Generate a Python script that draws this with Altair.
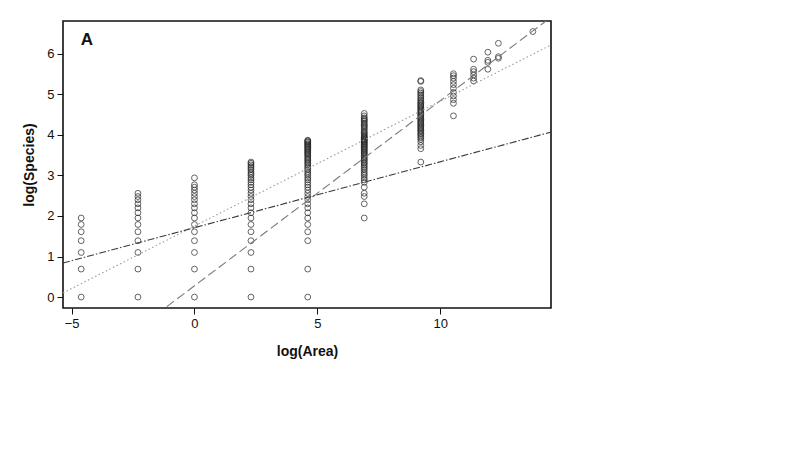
import altair as alt
import pandas as pd

# ---- data ----
col_x = [-4.61, -2.30, 0.0, 2.30, 4.61, 6.91, 9.21, 10.54, 11.36, 11.94, 12.37, 13.77]
col_y = [
    [0, 0.69, 1.10, 1.39, 1.61, 1.79, 1.95],
    [0, 0.69, 1.10, 1.39, 1.61, 1.79, 1.95, 2.08, 2.20, 2.30, 2.40, 2.48, 2.56],
    [0, 0.69, 1.10, 1.39, 1.61, 1.79, 1.95, 2.08, 2.20, 2.30, 2.40, 2.48, 2.56, 2.64, 2.71, 2.77, 2.94],
    [0, 0.69, 1.10, 1.39, 1.61, 1.79, 1.95, 2.08, 2.20, 2.30, 2.40, 2.48, 2.56, 2.64, 2.71, 2.77,
     2.83, 2.89, 2.94, 3.00, 3.04, 3.09, 3.14, 3.18, 3.22, 3.26, 3.30, 3.33],
    [0, 0.69, 1.39, 1.61, 1.79, 1.95, 2.08, 2.20, 2.30, 2.40, 2.48, 2.56, 2.64, 2.71, 2.77, 2.83,
     2.89, 2.94, 3.00, 3.04, 3.09, 3.14, 3.18, 3.22, 3.26, 3.30, 3.33, 3.37, 3.40, 3.43, 3.47,
     3.50, 3.53, 3.56, 3.58, 3.61, 3.64, 3.66, 3.69, 3.71, 3.74, 3.76, 3.78, 3.81, 3.83, 3.85, 3.87],
    [1.95, 2.30, 2.48, 2.56, 2.71, 2.83, 2.89, 2.94, 3.00, 3.04, 3.09, 3.14, 3.18, 3.22, 3.26,
     3.30, 3.33, 3.37, 3.40, 3.43, 3.47, 3.50, 3.53, 3.56, 3.58, 3.61, 3.64, 3.66, 3.69, 3.71,
     3.74, 3.76, 3.78, 3.81, 3.83, 3.85, 3.87, 3.89, 3.91, 3.93, 3.95, 3.97, 4.00, 4.03, 4.06,
     4.09, 4.13, 4.17, 4.20, 4.23, 4.26, 4.29, 4.33, 4.36, 4.39, 4.42, 4.47, 4.53],
    [3.33, 3.66, 3.74, 3.83, 3.89, 3.93, 3.97, 4.01, 4.04, 4.08, 4.11, 4.14, 4.17, 4.20, 4.23,
     4.26, 4.29, 4.32, 4.35, 4.38, 4.41, 4.44, 4.47, 4.50, 4.53, 4.56, 4.59, 4.62, 4.65, 4.68,
     4.71, 4.74, 4.77, 4.80, 4.83, 4.87, 4.91, 4.95, 4.99, 5.03, 5.07, 5.11, 5.32, 5.34],
    [4.47, 4.78, 4.87, 4.96, 5.05, 5.15, 5.24, 5.32, 5.40, 5.46, 5.51],
    [5.33, 5.40, 5.48, 5.56, 5.62, 5.87],
    [5.62, 5.79, 5.84, 6.04],
    [5.89, 5.93, 6.26],
    [6.55],
]

# fitted lines: intercept, slope, style
line_names = ["dash", "dotted", "dashdot"]
line_intercepts = [0.278, 1.75, 1.71]
line_slopes = [0.4565, 0.308, 0.1626]
line_colors = ["#7a7a7a", "#9a9a9a", "#3a3a3a"]
line_dashes = [[9, 4], [1.5, 2.5], [7, 2, 1.5, 2]]

x_domain = [-5.35, 14.51]
y_domain = [-0.27, 6.81]
x_ticks = [-5, 0, 5, 10]
y_ticks = [0, 1, 2, 3, 4, 5, 6]

rows = []
for xv, ys in zip(col_x, col_y):
    for yv in ys:
        rows.append({"x": xv, "y": yv})
pts = pd.DataFrame(rows)

xs = alt.Scale(domain=x_domain, nice=False, zero=False)
ys_ = alt.Scale(domain=y_domain, nice=False, zero=False)

x_axis = alt.Axis(values=x_ticks, title="log(Area)", grid=False, domain=False,
                  tickSize=6, tickColor="#111", tickWidth=1,
                  labelFont="Liberation Sans", labelFontSize=13, labelColor="#111",
                  labelPadding=3, titleFont="Liberation Sans", titleFontSize=14,
                  titleFontWeight="bold", titleColor="#111", titlePadding=14)
y_axis = alt.Axis(values=y_ticks, title="log(Species)", grid=False, domain=False,
                  tickSize=6, tickColor="#111", tickWidth=1,
                  labelFont="Liberation Sans", labelFontSize=13, labelColor="#111",
                  labelPadding=3, titleFont="Liberation Sans", titleFontSize=14,
                  titleFontWeight="bold", titleColor="#111", titlePadding=10)

points = alt.Chart(pts).mark_point(shape="circle", filled=False, size=34,
                                   stroke="#222", strokeWidth=1).encode(
    x=alt.X("x:Q", scale=xs, axis=x_axis),
    y=alt.Y("y:Q", scale=ys_, axis=y_axis),
)

layers = [points]
for name, a, b, c, d in zip(line_names, line_intercepts, line_slopes, line_colors, line_dashes):
    ldf = pd.DataFrame({"x": x_domain, "y": [a + b * x_domain[0], a + b * x_domain[1]]})
    layers.append(
        alt.Chart(ldf).mark_line(color=c, strokeDash=d, strokeWidth=1.1, clip=True).encode(
            x=alt.X("x:Q", scale=xs), y=alt.Y("y:Q", scale=ys_)
        )
    )

label = alt.Chart(pd.DataFrame({"t": ["A"]})).mark_text(
    font="Liberation Sans", fontSize=17, fontWeight="bold", color="#111",
    align="center", baseline="middle"
).encode(text="t:N", x=alt.value(24), y=alt.value(19))
layers.append(label)

chart = alt.layer(*layers).properties(
    width=488, height=287,
    autosize=alt.AutoSizeParams(type="none"),
    padding={"left": 55, "top": 13, "right": 220, "bottom": 120},
).configure(background="white").configure_view(stroke="#111", strokeWidth=1.6)

chart.save("out.html", embed_options={"renderer": "svg", "actions": False})
